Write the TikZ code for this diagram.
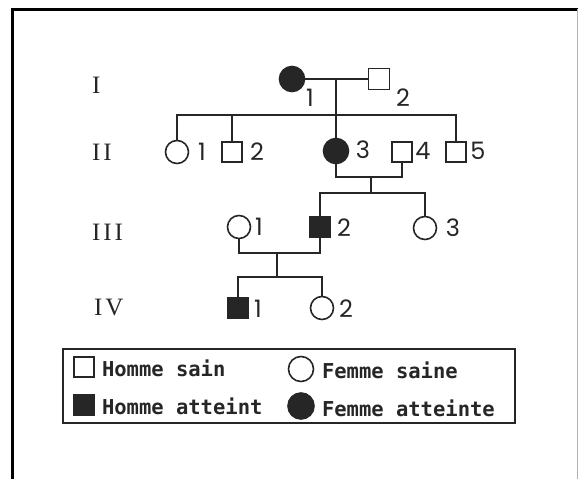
\documentclass[tikz,border=0pt]{standalone}
\usepackage{fontspec}
\setmainfont{Liberation Serif}
\newfontfamily\numfont{Poppins}
\newfontfamily\legfont{DejaVu Sans Mono}
\newfontfamily\genfont[LetterSpace=12]{Liberation Serif}
\definecolor{ink}{HTML}{262626}
\tikzset{
  x=1pt, y=-1pt,
  every node/.style={inner sep=0pt, outer sep=0pt},
  line/.style={draw=ink, line width=1.8pt},
  fem/.style={circle, draw=ink, line width=1.6pt, fill=white, minimum size=23pt},
  femA/.style={fem, fill=ink, minimum size=25pt},
  mal/.style={rectangle, draw=ink, line width=1.6pt, fill=white, minimum size=21pt},
  malA/.style={mal, fill=ink},
  num/.style={font=\numfont\fontsize{24}{24}\selectfont, text=ink},
  gen/.style={anchor=west, font=\genfont\fontsize{25}{25}\selectfont, text=ink},
  leg/.style={anchor=west, font=\legfont\bfseries\fontsize{20.5}{20.5}\selectfont, text=ink}
}
\begin{document}
\begin{tikzpicture}
\useasboundingbox (0,0) rectangle (578,479);
\fill[white] (0,0) rectangle (578,479);
% outer frame
\draw[black, line width=3pt] (12,479) -- (12,9) -- (578,9);
\draw[gray!60, line width=1pt] (577,9) -- (577,479);

% generation labels
\node[gen] (gI) at (92,85) {I};
\node[gen] (gII) at (92,152) {II};
\node[gen] (gIII) at (92,232) {III};
\node[gen] (gIV) at (94,307) {IV};

% generation I
\node[femA] (I1) at (292,79) {};
\node[mal] (I2) at (379,79) {};
\node[num] (lI1) at (310,98) {1};
\node[num] (lI2) at (403,98) {2};

% generation II
\node[fem] (II1) at (177,152) {};
\node[mal, minimum size=20pt] (II2) at (232,152) {};
\node[femA] (II3) at (336,151) {};
\node[mal, minimum size=20pt] (II4) at (402,152) {};
\node[mal, minimum size=20pt] (II5) at (456,152) {};
\node[num] (lII1) at (202,152) {1};
\node[num] (lII2) at (257,152) {2};
\node[num] (lII3) at (363,150) {3};
\node[num] (lII4) at (423,151) {4};
\node[num] (lII5) at (478,151) {5};

% generation III
\node[fem] (III1) at (239,227) {};
\node[malA] (III2) at (320,227) {};
\node[fem] (III3) at (425,228) {};
\node[num] (lIII1) at (259,227) {1};
\node[num] (lIII2) at (344,228) {2};
\node[num] (lIII3) at (453,228) {3};

% generation IV
\node[malA] (IV1) at (238,308) {};
\node[fem] (IV2) at (322,308) {};
\node[num] (lIV1) at (258,309) {1};
\node[num] (lIV2) at (346,309) {2};

% connectors
\coordinate (m1) at (336,79);
\coordinate (s1) at (336,115);
\coordinate (m2) at (371,177);
\coordinate (s2) at (371,193);
\coordinate (m3) at (277,253);
\coordinate (s3) at (277,277);

\draw[line] (I1) -- (I2);
\draw[line] (m1) -- (II3.north);
\draw[line] (II1.north) |- (s1) -| (II5.north);
\draw[line] (II2.north) -- (II2.north |- s1);

\draw[line] (II3.south) |- (m2) -| (II4.south);
\draw[line] (m2) -- (s2);
\draw[line] (III2.north) |- (s2) -| (III3.north);

\draw[line] (III1.south) |- (m3) -| (III2.south);
\draw[line] (m3) -- (s3);
\draw[line] (IV1.north) |- (s3) -| (IV2.north);

% legend
\node[draw=ink, line width=2pt, minimum width=452pt, minimum height=74pt] (legend) at (289,386) {};
\node[mal, minimum size=20pt] (k1) at (84,367) {};
\node[leg] (t1) at (102,368) {Homme sain};
\node[malA, minimum size=20pt] (k2) at (84,405) {};
\node[leg] (t2) at (102,406) {Homme atteint};
\node[fem, minimum size=25pt] (k3) at (301,369) {};
\node[leg] (t3) at (322,370) {Femme saine};
\node[femA, minimum size=26pt] (k4) at (301,406) {};
\node[leg] (t4) at (322,408) {Femme atteinte};
\end{tikzpicture}
\end{document}
